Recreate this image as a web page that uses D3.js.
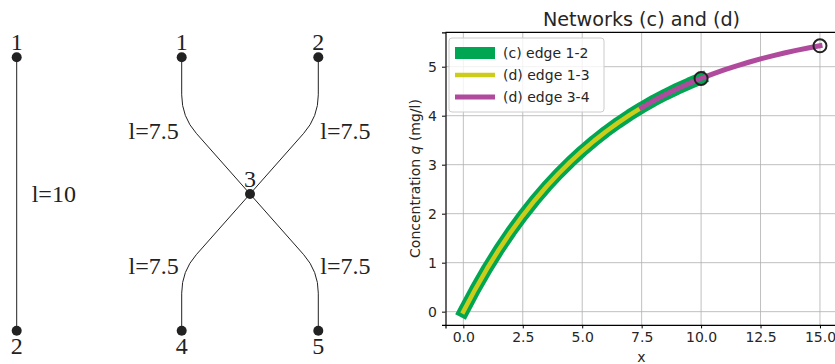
<!DOCTYPE html>
<html>
<head>
<meta charset="utf-8">
<script src="https://cdn.jsdelivr.net/npm/d3@7"></script>
<style>
  body { margin: 0; background: #fff; }
  svg { display: block; }
</style>
</head>
<body>
<script>
// ---- network diagrams (schematic units) ----
var netC_nodes = [ {id: "1", gx: 0, gy: 0}, {id: "2", gx: 0, gy: 1} ];
var netC_edges = [ {s: 0, t: 1, label: "l=10"} ];
var netD_nodes = [
  {id: "1", gx: -1, gy: 0}, {id: "2", gx: 1, gy: 0}, {id: "3", gx: 0, gy: 0.5},
  {id: "4", gx: -1, gy: 1}, {id: "5", gx: 1, gy: 1}
];
var netD_edges = [
  {s: 0, t: 2, label: "l=7.5"}, {s: 1, t: 2, label: "l=7.5"},
  {s: 2, t: 3, label: "l=7.5"}, {s: 2, t: 4, label: "l=7.5"}
];

// ---- concentration chart ----
var xs = [0, 0.5, 1, 1.5, 2, 2.5, 3, 3.5, 4, 4.5, 5, 5.5, 6, 6.5, 7, 7.5,
          8, 8.5, 9, 9.5, 10, 10.5, 11, 11.5, 12, 12.5, 13, 13.5, 14, 14.5, 15];
var qs = [0, 0.457, 0.880, 1.270, 1.630, 1.962, 2.270, 2.554, 2.815, 3.057, 3.280,
          3.486, 3.677, 3.853, 4.015, 4.165, 4.304, 4.432, 4.550, 4.659, 4.760,
          4.853, 4.938, 5.018, 5.091, 5.159, 5.222, 5.279, 5.332, 5.382, 5.427];
var seriesNames = ["(c) edge 1-2", "(d) edge 1-3", "(d) edge 3-4"];
var seriesRanges = [[0, 10], [0, 7.5], [7.5, 15]];
var seriesColors = ["#00a651", "#cccc1a", "#b04a9c"];
var endPoints = [10, 15];
var xTicks = [0, 2.5, 5, 7.5, 10, 12.5, 15];
var yTicks = [0, 1, 2, 3, 4, 5];

var width = 835, height = 364;
var svg = d3.select("body").append("svg").attr("width", width).attr("height", height);

var serif = "'Liberation Serif', 'DejaVu Serif', serif";
var ink = "#222";

function drawNet(nodes, edges, gx, gy, curved) {
  var g = svg.append("g");
  var pos = function(n) { return [gx(n.gx), gy(n.gy)]; };
  // outer node first, centre node second
  var ends = function(e) {
    var s = nodes[e.s], t = nodes[e.t];
    return s.gy === 0.5 ? [pos(t), pos(s)] : [pos(s), pos(t)];
  };

  edges.forEach(function(e) {
    var ab = ends(e), a = ab[0], b = ab[1];
    var p = d3.path();
    p.moveTo(a[0], a[1]);
    if (curved) {
      // vertical out of the outer node, rounded bend, straight diagonal into centre
      var sy = Math.sign(b[1] - a[1]);
      var cy = b[1] - sy * 1.13 * Math.abs(b[0] - a[0]);
      var dx = b[0] - a[0], dy = b[1] - cy, len = Math.hypot(dx, dy);
      var r = 22;
      p.lineTo(a[0], cy - sy * r);
      p.quadraticCurveTo(a[0], cy, a[0] + dx / len * r, cy + dy / len * r);
    }
    p.lineTo(b[0], b[1]);
    g.append("path").attr("d", p.toString()).attr("fill", "none")
      .attr("stroke", ink).attr("stroke-width", 1);
  });

  g.selectAll("circle").data(nodes).enter().append("circle")
    .attr("cx", function(n) { return pos(n)[0]; })
    .attr("cy", function(n) { return pos(n)[1]; })
    .attr("r", 5).attr("fill", ink);

  g.selectAll("text.node").data(nodes).enter().append("text")
    .attr("class", "node")
    .attr("x", function(n) { return pos(n)[0]; })
    .attr("y", function(n) {
      if (n.gy === 1) return pos(n)[1] + 23;
      return pos(n)[1] - 7;
    })
    .attr("text-anchor", "middle")
    .style("font-family", serif).style("font-size", "24px").attr("fill", ink)
    .text(function(n) { return n.id; });

  edges.forEach(function(e) {
    var ab = ends(e), a = ab[0], b = ab[1];
    var lx, ly, anchor;
    if (!curved) {
      lx = a[0] + 15; ly = (a[1] + b[1]) / 2; anchor = "start";
    } else {
      var left = a[0] < gx(0);
      lx = left ? a[0] - 3 : a[0] + 2;
      ly = a[1] < gy(0.5) ? a[1] + 73 : a[1] - 65;
      anchor = left ? "end" : "start";
    }
    g.append("text").attr("x", lx).attr("y", ly).attr("dy", "0.35em")
      .attr("text-anchor", anchor)
      .style("font-family", serif).style("font-size", "24px").attr("fill", ink)
      .text(e.label);
  });
}

var nodeY = d3.scaleLinear().domain([0, 1]).range([57.3, 330.7]);
drawNet(netC_nodes, netC_edges, d3.scaleLinear().domain([0, 1]).range([16.7, 30]), nodeY, false);
drawNet(netD_nodes, netD_edges, d3.scaleLinear().domain([-1, 1]).range([181.7, 318.3]), nodeY, true);

// ---- chart ----
var x = d3.scaleLinear().domain([-0.75, 15.75]).range([445.5, 837.8]);
var y = d3.scaleLinear().domain([-0.27, 5.7]).range([324.9, 32.4]);
var sans = "'DejaVu Sans', sans-serif";
var txt = "#262626";
var fs = "14px";

var chart = svg.append("g");

// grid
chart.append("g").selectAll("line").data(xTicks).enter().append("line")
  .attr("x1", function(d) { return x(d); }).attr("x2", function(d) { return x(d); })
  .attr("y1", y.range()[0]).attr("y2", y.range()[1])
  .attr("stroke", "#b0b0b0").attr("stroke-width", 0.8);
chart.append("g").selectAll("line").data(yTicks).enter().append("line")
  .attr("y1", function(d) { return y(d); }).attr("y2", function(d) { return y(d); })
  .attr("x1", x.range()[0]).attr("x2", x.range()[1])
  .attr("stroke", "#b0b0b0").attr("stroke-width", 0.8);

// lines
var line = d3.line().x(function(d) { return x(d[0]); }).y(function(d) { return y(d[1]); });
var pts = xs.map(function(v, i) { return [v, qs[i]]; });
var widths = [12, 4.5, 5];
seriesNames.forEach(function(name, i) {
  var r = seriesRanges[i];
  var seg = pts.filter(function(p) { return p[0] >= r[0] && p[0] <= r[1]; });
  chart.append("path").datum(seg).attr("d", line).attr("fill", "none")
    .attr("stroke", seriesColors[i]).attr("stroke-width", widths[i])
    .attr("stroke-linecap", "square").attr("stroke-linejoin", "round");
});

// end markers
chart.selectAll("circle.end").data(endPoints).enter().append("circle")
  .attr("class", "end")
  .attr("cx", function(d) { return x(d); })
  .attr("cy", function(d) { return y(qs[xs.indexOf(d)]); })
  .attr("r", 6.5).attr("fill", "none").attr("stroke", "#222").attr("stroke-width", 2);

// axes
var xAxis = chart.append("g").attr("transform", "translate(0," + y.range()[0] + ")")
  .call(d3.axisBottom(x).tickValues(xTicks).tickFormat(d3.format(".1f")).tickSizeOuter(0).tickSize(3.5).tickPadding(4));
var yAxis = chart.append("g").attr("transform", "translate(" + x.range()[0] + ",0)")
  .call(d3.axisLeft(y).tickValues(yTicks).tickFormat(d3.format("d")).tickSizeOuter(0).tickSize(3.5).tickPadding(5));
[xAxis, yAxis].forEach(function(a) {
  a.select(".domain").attr("stroke", "#000").attr("stroke-width", 1.2);
  a.selectAll(".tick line").attr("stroke", "#000").attr("stroke-width", 1);
  a.selectAll(".tick text").style("font-family", sans).style("font-size", fs).attr("fill", txt);
});
// top spine
chart.append("line").attr("x1", x.range()[0]).attr("x2", x.range()[1])
  .attr("y1", y.range()[1]).attr("y2", y.range()[1]).attr("stroke", "#000").attr("stroke-width", 1.2);

// labels
chart.append("text").attr("x", 641.5).attr("y", 26).attr("text-anchor", "middle")
  .style("font-family", sans).style("font-size", "19.2px").attr("fill", txt)
  .text("Networks (c) and (d)");
chart.append("text").attr("x", 641.5).attr("y", 362).attr("text-anchor", "middle")
  .style("font-family", sans).style("font-size", fs).attr("fill", txt).text("x");
var yl = chart.append("text").attr("transform", "translate(420,178.5) rotate(-90)")
  .attr("text-anchor", "middle")
  .style("font-family", sans).style("font-size", fs).attr("fill", txt);
yl.append("tspan").text("Concentration ");
yl.append("tspan").style("font-style", "italic").text("q");
yl.append("tspan").text(" (mg/l)");

// legend
var lg = chart.append("g");
lg.append("rect").attr("x", 449).attr("y", 38).attr("width", 155).attr("height", 74)
  .attr("rx", 3).attr("fill", "#fff").attr("fill-opacity", 0.8)
  .attr("stroke", "#ccc").attr("stroke-width", 1);
seriesNames.forEach(function(name, i) {
  var ly = 53 + i * 22;
  lg.append("line").attr("x1", 455).attr("x2", 495).attr("y1", ly).attr("y2", ly)
    .attr("stroke", seriesColors[i]).attr("stroke-width", widths[i]);
  lg.append("text").attr("x", 503).attr("y", ly).attr("dy", "0.35em")
    .style("font-family", sans).style("font-size", fs).attr("fill", txt).text(name);
});
</script>
</body>
</html>
